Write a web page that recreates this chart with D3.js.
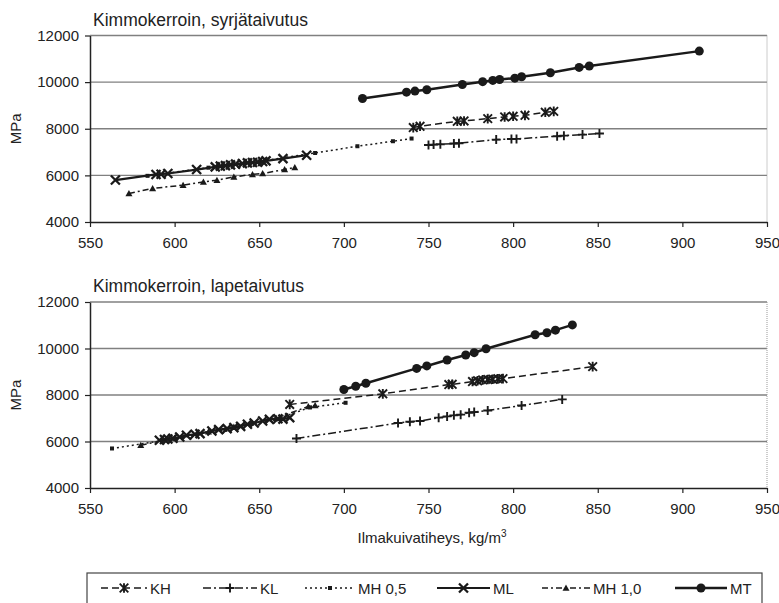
<!DOCTYPE html>
<html><head><meta charset="utf-8">
<script src="https://cdn.jsdelivr.net/npm/d3@7/dist/d3.min.js"></script>
<style>
html,body{margin:0;padding:0;background:#fff;}
svg{display:block;font-family:"Liberation Sans",Arial,sans-serif;}
</style></head>
<body><svg id="c" width="779" height="603"></svg>
<script>
// ---- data ----
const xTicks = [550,600,650,700,750,800,850,900,950];
const yTicks = [4000,6000,8000,10000,12000];
const seriesNames = ["KH","KL","MH 0,5","ML","MH 1,0","MT"];
const titles = ["Kimmokerroin, syrjätaivutus","Kimmokerroin, lapetaivutus"];

// Top chart (syrjätaivutus)
const topKH_x = [741,745,767,771,785,795,800,807,819,824];
const topKH_y = [8050,8105,8320,8335,8435,8505,8535,8575,8705,8745];
const topKL_x = [750,753,757,765,768,790,799,802,826,830,841,851];
const topKL_y = [7305,7320,7335,7365,7380,7535,7560,7565,7680,7705,7750,7795];
const topMH05_x = [584,620,650,683,708,729,740];
const topMH05_y = [5980,6330,6600,6960,7250,7465,7580];
const topML_x = [565,589,592,596,613,624,627,630,633,636,640,643,646,649,652,654,664,678];
const topML_y = [5800,6040,6050,6080,6250,6365,6395,6420,6450,6480,6505,6535,6550,6565,6595,6620,6720,6865];
const topMH10_x = [573,587,605,617,625,635,646,652,665,671];
const topMH10_y = [5225,5440,5580,5720,5795,5935,6040,6080,6250,6340];
const topMT_x = [711,737,742,749,770,782,788,792,801,805,822,839,845,910];
const topMT_y = [9300,9570,9615,9675,9900,10020,10075,10115,10170,10230,10400,10630,10690,11330];

// Bottom chart (lapetaivutus)
const botKH_x = [668,723,762,764,776,779,782,785,788,791,794,847];
const botKH_y = [7595,8050,8450,8460,8580,8610,8650,8665,8680,8695,8705,9220];
const botKL_x = [672,732,739,745,756,761,765,769,774,777,785,805,829];
const botKL_y = [6130,6795,6850,6880,7025,7080,7125,7155,7235,7265,7335,7550,7810];
const botMH05_x = [563,600,630,660,680,701];
const botMH05_y = [5700,6120,6500,6950,7470,7665];
const botML_x = [591,594,596,599,603,607,612,615,622,626,631,635,639,643,647,652,656,661,664,668];
const botML_y = [6055,6085,6110,6140,6195,6270,6310,6340,6450,6510,6555,6595,6650,6740,6795,6880,6950,6980,6965,7025];
const botMH10_x = [580,600,620,635,645,660,679,683];
const botMH10_y = [5840,6150,6420,6620,6800,7000,7510,7550];
const botMT_x = [700,707,713,743,749,761,772,777,784,813,820,825,835];
const botMT_y = [8235,8375,8505,9145,9250,9505,9720,9820,9990,10590,10675,10790,11015];

// ---- styles ----
const styles = {
  "KH":     {w:1.5, dash:"7,4", marker:"star"},
  "KL":     {w:1.5, dash:"8,3,2,3", marker:"plus"},
  "MH 0,5": {w:1.5, dash:"2,3", marker:"square"},
  "ML":     {w:2.2, dash:null, marker:"x"},
  "MH 1,0": {w:1.5, dash:"6,3,2,3", marker:"tri"},
  "MT":     {w:2.5, dash:null, marker:"circle"}
};
const ink = "#1a1a1a";

const svg = d3.select("#c");

function drawMarker(g, type, cx, cy) {
  if (type === "circle") {
    g.append("circle").attr("cx",cx).attr("cy",cy).attr("r",4.5).attr("fill",ink);
  } else if (type === "x") {
    const s=4.5;
    g.append("path").attr("d",`M${cx-s},${cy-s}L${cx+s},${cy+s}M${cx-s},${cy+s}L${cx+s},${cy-s}`)
      .attr("stroke",ink).attr("stroke-width",2.3).attr("fill","none");
  } else if (type === "star") {
    const s=4.3;
    g.append("path").attr("d",`M${cx-s},${cy-s}L${cx+s},${cy+s}M${cx-s},${cy+s}L${cx+s},${cy-s}M${cx},${cy-s-0.5}L${cx},${cy+s+0.5}`)
      .attr("stroke",ink).attr("stroke-width",1.9).attr("fill","none");
  } else if (type === "plus") {
    const s=4.5;
    g.append("path").attr("d",`M${cx-s},${cy}L${cx+s},${cy}M${cx},${cy-s}L${cx},${cy+s}`)
      .attr("stroke",ink).attr("stroke-width",1.9).attr("fill","none");
  } else if (type === "square") {
    g.append("rect").attr("x",cx-2).attr("y",cy-2).attr("width",4).attr("height",4).attr("fill",ink);
  } else if (type === "tri") {
    const s=3.5;
    g.append("path").attr("d",`M${cx},${cy-s}L${cx+s},${cy+s*0.8}L${cx-s},${cy+s*0.8}Z`).attr("fill",ink);
  }
}

function drawChart(top, bottom, title, data) {
  const x = d3.scaleLinear().domain([550,950]).range([90,767]);
  const y = d3.scaleLinear().domain([4000,12000]).range([bottom, top]);
  const g = svg.append("g");

  // gridlines
  g.selectAll(".grid").data(yTicks.filter(v=>v>4000)).enter().append("line")
    .attr("x1",x(550)).attr("x2",x(950)).attr("y1",d=>y(d)).attr("y2",d=>y(d))
    .attr("stroke","#808080").attr("stroke-width",1.3);
  // right border
  g.append("line").attr("x1",x(950)).attr("x2",x(950)).attr("y1",y(12000)).attr("y2",y(4000))
    .attr("stroke","#999").attr("stroke-width",1).attr("stroke-dasharray","1,1");

  // axes
  const ax = g.append("g").attr("transform",`translate(0,${y(4000)})`)
    .call(d3.axisBottom(x).tickValues(xTicks).tickSize(5).tickSizeOuter(0).tickPadding(10));
  const ay = g.append("g").attr("transform",`translate(${x(550)},0)`)
    .call(d3.axisLeft(y).tickValues(yTicks).tickSize(5).tickSizeOuter(0).tickPadding(6).tickFormat(d3.format("d")));
  [ax,ay].forEach(a=>{
    a.select(".domain").attr("stroke","#222").attr("stroke-width",1.5);
    a.selectAll(".tick line").attr("stroke","#222").attr("stroke-width",1.2);
    a.selectAll("text").attr("font-size","15px").attr("fill","#222")
      .attr("font-family",'"Liberation Sans",Arial,sans-serif');
  });

  // title
  g.append("text").attr("x",93).attr("y",top-10).text(title)
    .attr("font-size","17.5px").attr("fill","#222");
  // MPa
  g.append("text").attr("transform",`translate(21,${(top+bottom)/2}) rotate(-90)`)
    .attr("text-anchor","middle").attr("font-size","15px").attr("fill","#222").text("MPa");

  // series
  data.forEach(s=>{
    const st = styles[s.name];
    const pts = s.xs.map((v,i)=>[x(v), y(s.ys[i])]);
    const line = d3.line();
    g.append("path").attr("d",line(pts)).attr("fill","none").attr("stroke",ink)
      .attr("stroke-width",st.w).attr("stroke-dasharray",st.dash);
    const mg = g.append("g");
    pts.forEach(p=>drawMarker(mg, st.marker, p[0], p[1]));
  });
}

drawChart(35.5, 222, titles[0], [
  {name:"KH", xs:topKH_x, ys:topKH_y},
  {name:"KL", xs:topKL_x, ys:topKL_y},
  {name:"MH 0,5", xs:topMH05_x, ys:topMH05_y},
  {name:"ML", xs:topML_x, ys:topML_y},
  {name:"MH 1,0", xs:topMH10_x, ys:topMH10_y},
  {name:"MT", xs:topMT_x, ys:topMT_y}
]);
drawChart(302, 488, titles[1], [
  {name:"KH", xs:botKH_x, ys:botKH_y},
  {name:"KL", xs:botKL_x, ys:botKL_y},
  {name:"MH 0,5", xs:botMH05_x, ys:botMH05_y},
  {name:"ML", xs:botML_x, ys:botML_y},
  {name:"MH 1,0", xs:botMH10_x, ys:botMH10_y},
  {name:"MT", xs:botMT_x, ys:botMT_y}
]);

// x-axis title
const xt = svg.append("text").attr("x",432).attr("y",543).attr("text-anchor","middle")
  .attr("font-size","15px").attr("fill","#222");
xt.append("tspan").text("Ilmakuivatiheys, kg/m");
xt.append("tspan").attr("font-size","10px").attr("dy",-6).text("3");

// legend
const lg = svg.append("g");
lg.append("rect").attr("x",87).attr("y",573).attr("width",675).attr("height",34)
  .attr("fill","#fff").attr("stroke","#444").attr("stroke-width",1.2);
const legendX0 = [101,203,305,437,542,675];
const legendX1 = [147,257,355,490,590,727];
const ly = 588;
seriesNames.forEach((n,i)=>{
  const st = styles[n];
  lg.append("line").attr("x1",legendX0[i]).attr("x2",legendX1[i]).attr("y1",ly).attr("y2",ly)
    .attr("stroke",ink).attr("stroke-width",st.w).attr("stroke-dasharray",st.dash);
  drawMarker(lg, st.marker, (legendX0[i]+legendX1[i])/2, ly);
  lg.append("text").attr("x",legendX1[i]+3).attr("y",ly+5.5).attr("font-size","15px")
    .attr("fill","#222").text(n);
});
</script></body></html>
